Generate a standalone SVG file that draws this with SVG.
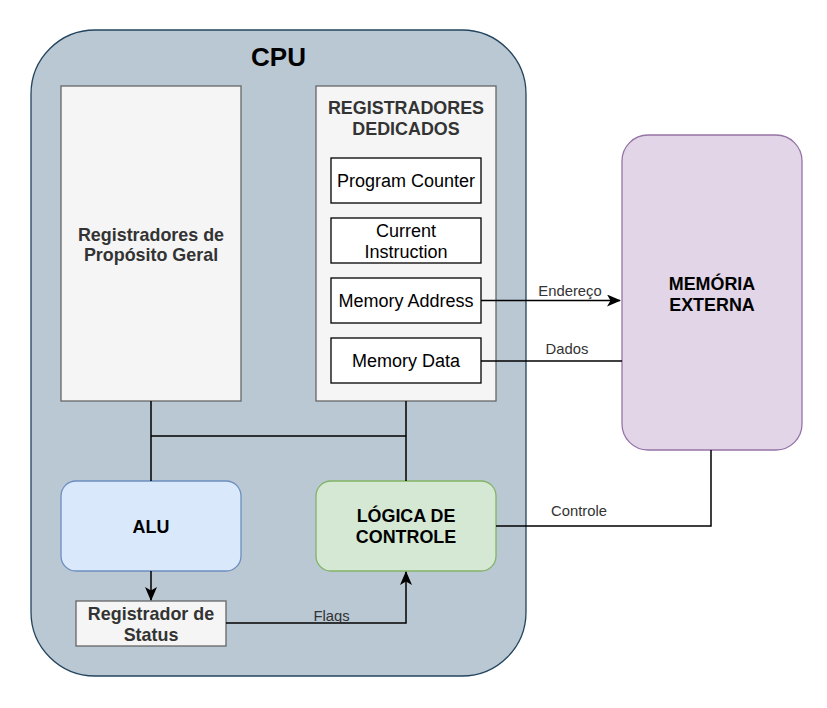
<svg xmlns="http://www.w3.org/2000/svg" width="827" height="708" viewBox="0 0 827 708">
<defs>
<style>
text{font-family:"Liberation Sans",Arial,Helvetica,sans-serif;text-anchor:middle}
.b{font-weight:bold;font-size:17.9px}
.r{font-size:18px;fill:#000}
.g{fill:#333333}
.k{fill:#000000}
.lbl{font-size:14.8px;fill:#333333}
.gray{fill:#f5f5f5;stroke:#666666;stroke-width:1.3}
.reg{fill:#ffffff;stroke:#000000;stroke-width:1.3}
.edge{fill:none;stroke:#000000;stroke-width:1.5}
</style>
<marker id="arr" viewBox="0 0 14 12" refX="13" refY="6" markerWidth="14" markerHeight="12" markerUnits="userSpaceOnUse" orient="auto">
<path d="M0,0 L14,6 L0,12 L3.5,6 Z" fill="#000000"/>
</marker>
</defs>
<rect width="827" height="708" fill="#ffffff"/>
<g id="cpu">
<rect x="31" y="30" width="495" height="646" rx="64" ry="64" fill="#bac8d3" stroke="#23445d" stroke-width="1.3"/>
<text x="278.5" y="66" class="k" style="font-weight:bold;font-size:26px">CPU</text>
</g>
<g id="gpr">
<rect x="61" y="86" width="180" height="315" class="gray"/>
<text x="151" y="241" class="b g">Registradores de</text>
<text x="151" y="261" class="b g">Propósito Geral</text>
</g>
<g id="dedicated">
<rect x="316" y="86" width="180" height="315" class="gray"/>
<text x="406" y="114" class="b g">REGISTRADORES</text>
<text x="406" y="135" class="b g">DEDICADOS</text>
</g>
<g id="pc">
<rect x="331" y="158" width="150" height="45" class="reg"/>
<text x="406" y="187" class="r">Program Counter</text>
</g>
<g id="ci">
<rect x="331" y="218" width="150" height="45" class="reg"/>
<text x="406" y="237" class="r">Current</text>
<text x="406" y="258" class="r">Instruction</text>
</g>
<g id="mar">
<rect x="331" y="278" width="150" height="45" class="reg"/>
<text x="406" y="307" class="r">Memory Address</text>
</g>
<g id="mdr">
<rect x="331" y="338" width="150" height="45" class="reg"/>
<text x="406" y="367" class="r">Memory Data</text>
</g>
<g id="alu">
<rect x="61" y="481" width="180" height="90" rx="15" ry="15" fill="#dae8fc" stroke="#6c8ebf" stroke-width="1.3"/>
<text x="151" y="533" class="b k">ALU</text>
</g>
<g id="control">
<rect x="316" y="481" width="180" height="90" rx="15" ry="15" fill="#d5e8d4" stroke="#82b366" stroke-width="1.3"/>
<text x="406" y="522" class="b k">LÓGICA DE</text>
<text x="406" y="543" class="b k">CONTROLE</text>
</g>
<g id="status">
<rect x="76" y="601" width="150" height="45" class="gray"/>
<text x="151" y="620" class="b g">Registrador de</text>
<text x="151" y="641" class="b g">Status</text>
</g>
<g id="memory">
<rect x="622" y="135" width="180" height="315" rx="26" ry="26" fill="#e1d5e7" stroke="#9673a6" stroke-width="1.3"/>
<text x="712" y="290" class="b k">MEMÓRIA</text>
<text x="712" y="311" class="b k">EXTERNA</text>
</g>
<g id="connectors">
<path class="edge" d="M151,401 V481"/>
<path class="edge" d="M406,401 V481"/>
<path class="edge" d="M151,436 H406"/>
<path class="edge" d="M151,571 V600" marker-end="url(#arr)"/>
<path class="edge" d="M226,623 H406 V572" marker-end="url(#arr)"/>
<path class="edge" d="M481,300.5 H620" marker-end="url(#arr)"/>
<path class="edge" d="M481,361 H622"/>
<path class="edge" d="M496,526 H711 V450"/>
<text x="331.5" y="621" class="lbl">Flags</text>
<text x="570" y="296" class="lbl">Endereço</text>
<text x="567" y="354" class="lbl">Dados</text>
<text x="579" y="516" class="lbl">Controle</text>
</g>
</svg>
